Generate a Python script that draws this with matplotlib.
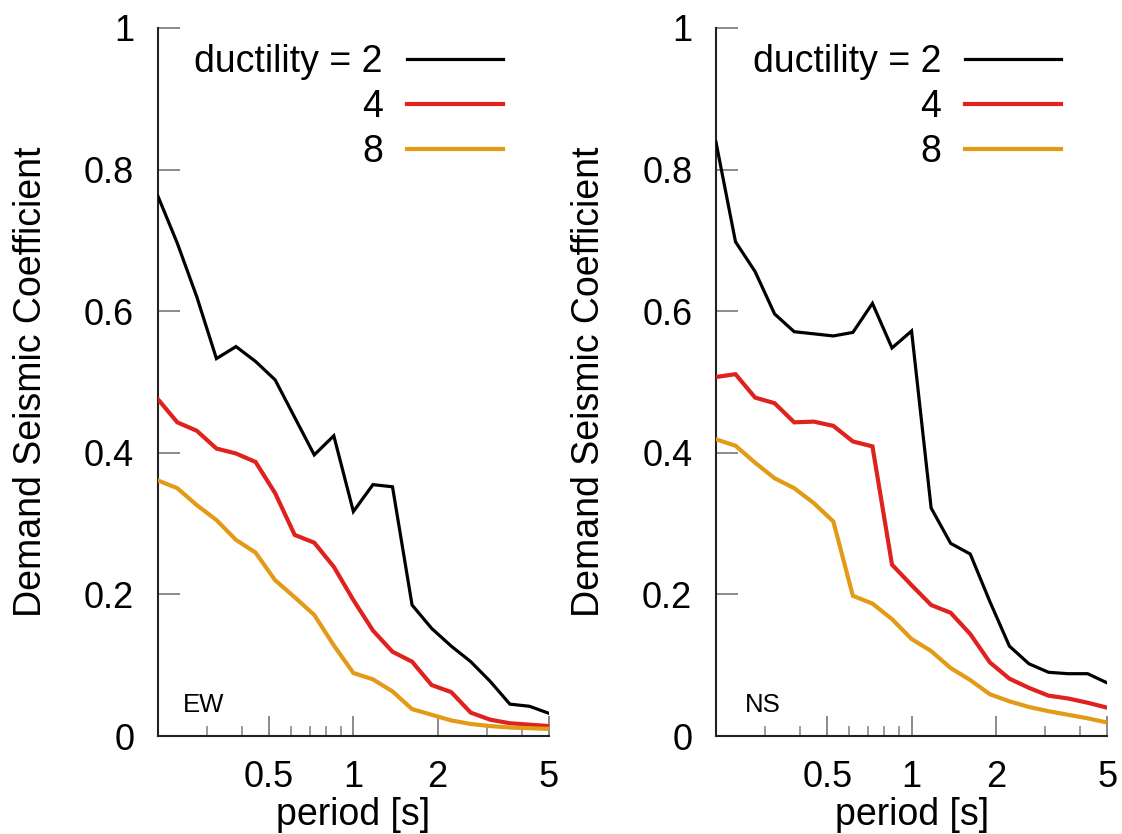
import matplotlib
matplotlib.use("Agg")
import matplotlib.pyplot as plt
from matplotlib.ticker import NullFormatter, FixedLocator

plt.rcParams['font.family'] = ['Liberation Sans', 'DejaVu Sans']

# ---- data ----
periods = [0.2, 0.2349, 0.2759, 0.3241, 0.3807, 0.4472, 0.5253, 0.6170, 0.7248, 0.8513,
           1.0, 1.1746, 1.3797, 1.6207, 1.9037, 2.2361, 2.6265, 3.0852, 3.6239, 4.2567, 5.0]

ew_mu2 = [0.763, 0.696, 0.620, 0.533, 0.550, 0.529, 0.503, 0.450, 0.397, 0.424, 0.317,
          0.355, 0.352, 0.185, 0.152, 0.127, 0.105, 0.077, 0.045, 0.042, 0.032]
ew_mu4 = [0.476, 0.443, 0.431, 0.406, 0.399, 0.387, 0.343, 0.284, 0.273, 0.239, 0.192,
          0.149, 0.119, 0.105, 0.072, 0.062, 0.033, 0.023, 0.018, 0.016, 0.014]
ew_mu8 = [0.361, 0.350, 0.326, 0.305, 0.277, 0.259, 0.220, 0.196, 0.171, 0.128, 0.089,
          0.080, 0.063, 0.038, 0.030, 0.022, 0.017, 0.014, 0.012, 0.011, 0.010]

ns_mu2 = [0.839, 0.698, 0.656, 0.596, 0.571, 0.568, 0.565, 0.570, 0.611, 0.548, 0.572,
          0.322, 0.272, 0.257, 0.190, 0.127, 0.102, 0.090, 0.088, 0.088, 0.075]
ns_mu4 = [0.507, 0.511, 0.478, 0.470, 0.443, 0.444, 0.438, 0.416, 0.409, 0.242, 0.213,
          0.185, 0.174, 0.144, 0.104, 0.081, 0.068, 0.057, 0.053, 0.047, 0.040]
ns_mu8 = [0.419, 0.410, 0.386, 0.364, 0.350, 0.329, 0.303, 0.198, 0.187, 0.165, 0.137,
          0.120, 0.096, 0.079, 0.059, 0.049, 0.041, 0.035, 0.030, 0.025, 0.019]

series_labels = ["ductility = 2", "4", "8"]
panel_names = ["EW", "NS"]
xtick_major = [0.5, 1, 2, 5]
xtick_major_labels = ["0.5", "1", "2", "5"]
xtick_minor = [0.3, 0.4, 0.6, 0.7, 0.8, 0.9, 3, 4]
ytick_vals = [0, 0.2, 0.4, 0.6, 0.8, 1.0]
ytick_labels = ["0", "0.2", "0.4", "0.6", "0.8", "1"]

colors = ["#000000", "#e0221e", "#e39b17"]
widths = [2.3, 3.0, 3.0]

FS = 27
TFS = 26

fig = plt.figure(figsize=(11.22, 8.34), dpi=100)
ax_w = 0.3487
ax_h = 0.849
axes = [fig.add_axes([0.1406, 0.1175, ax_w, ax_h]),
        fig.add_axes([0.6381, 0.1175, ax_w, ax_h])]

panels = [(ew_mu2, ew_mu4, ew_mu8), (ns_mu2, ns_mu4, ns_mu8)]
name_x = [0.065, 0.074]

for ax, data, name, nx in zip(axes, panels, panel_names, name_x):
    handles = []
    for ys, c, lw in zip(data, colors, widths):
        h, = ax.plot(periods, ys, color=c, lw=lw, solid_joinstyle='miter', zorder=3)
        handles.append(h)
    ax.set_xscale('log')
    ax.set_xlim(0.2, 5)
    ax.set_ylim(0, 1)
    ax.xaxis.set_major_locator(FixedLocator(xtick_major))
    ax.set_xticklabels(xtick_major_labels)
    ax.xaxis.set_minor_locator(FixedLocator(xtick_minor))
    ax.xaxis.set_minor_formatter(NullFormatter())
    ax.set_yticks(ytick_vals)
    ax.set_yticklabels(ytick_labels)
    ax.spines['top'].set_visible(False)
    ax.spines['right'].set_visible(False)
    for s in ('left', 'bottom'):
        ax.spines[s].set_linewidth(1.5)
        ax.spines[s].set_color('#222222')
    ax.tick_params(axis='y', which='major', direction='in', length=15.5, width=1.4,
                   color='#8a8a8a', labelsize=TFS, pad=17)
    ax.tick_params(axis='x', which='major', direction='in', length=14.5, width=1.4,
                   color='#8a8a8a', labelsize=TFS, pad=17)
    ax.tick_params(axis='x', which='minor', direction='in', length=7.2, width=1.2,
                   color='#8a8a8a')
    ax.set_xlabel('period [s]', fontsize=FS, labelpad=2)
    ax.set_ylabel('Demand Seismic Coefficient', fontsize=FS, labelpad=25)
    ax.text(nx, 0.034, name, transform=ax.transAxes, fontsize=18.5,
            ha='left', va='baseline')
    leg = ax.legend(handles, series_labels, loc='upper right',
                    bbox_to_anchor=(0.8824, 0.977), borderaxespad=0, borderpad=0,
                    frameon=False, markerfirst=False, fontsize=FS,
                    handlelength=2.57, handletextpad=0.63, labelspacing=0.24)

fig.savefig('out.png', dpi=100)
